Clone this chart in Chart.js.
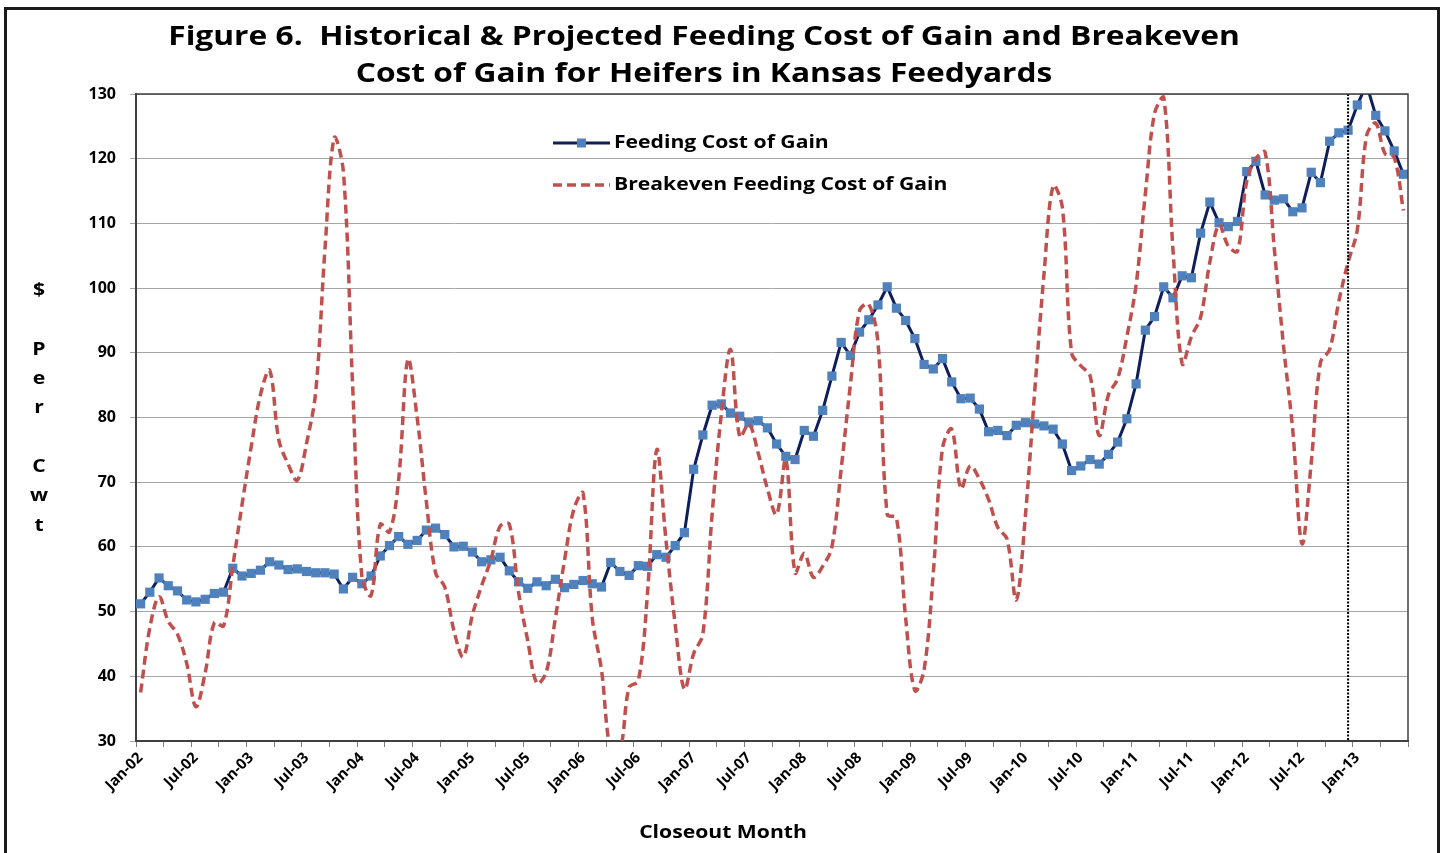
<!DOCTYPE html>
<html>
<head>
<meta charset="utf-8">
<script src="https://cdn.jsdelivr.net/npm/chart.js@4.4.1/dist/chart.umd.min.js"></script>
<style>
  html, body { margin: 0; padding: 0; background: #fff; }
  #wrap { position: relative; width: 1448px; height: 853px; overflow: hidden; }
  #frame { position: absolute; left: 4px; top: 7px; width: 1436px; height: 900px; border: 3px solid #1a1a1a; box-sizing: border-box; pointer-events: none; }
  canvas { position: absolute; left: 0; top: 0; }
</style>
</head>
<body>
<div id="wrap">
  <canvas id="chart01" width="1448" height="853"></canvas>
  <div id="frame"></div>
</div>
<script>
// categories: closeout months
const months = [
  'Jan-02', 'Feb-02', 'Mar-02', 'Apr-02', 'May-02', 'Jun-02', 'Jul-02', 'Aug-02', 'Sep-02', 'Oct-02', 'Nov-02', 'Dec-02',
  'Jan-03', 'Feb-03', 'Mar-03', 'Apr-03', 'May-03', 'Jun-03', 'Jul-03', 'Aug-03', 'Sep-03', 'Oct-03', 'Nov-03', 'Dec-03',
  'Jan-04', 'Feb-04', 'Mar-04', 'Apr-04', 'May-04', 'Jun-04', 'Jul-04', 'Aug-04', 'Sep-04', 'Oct-04', 'Nov-04', 'Dec-04',
  'Jan-05', 'Feb-05', 'Mar-05', 'Apr-05', 'May-05', 'Jun-05', 'Jul-05', 'Aug-05', 'Sep-05', 'Oct-05', 'Nov-05', 'Dec-05',
  'Jan-06', 'Feb-06', 'Mar-06', 'Apr-06', 'May-06', 'Jun-06', 'Jul-06', 'Aug-06', 'Sep-06', 'Oct-06', 'Nov-06', 'Dec-06',
  'Jan-07', 'Feb-07', 'Mar-07', 'Apr-07', 'May-07', 'Jun-07', 'Jul-07', 'Aug-07', 'Sep-07', 'Oct-07', 'Nov-07', 'Dec-07',
  'Jan-08', 'Feb-08', 'Mar-08', 'Apr-08', 'May-08', 'Jun-08', 'Jul-08', 'Aug-08', 'Sep-08', 'Oct-08', 'Nov-08', 'Dec-08',
  'Jan-09', 'Feb-09', 'Mar-09', 'Apr-09', 'May-09', 'Jun-09', 'Jul-09', 'Aug-09', 'Sep-09', 'Oct-09', 'Nov-09', 'Dec-09',
  'Jan-10', 'Feb-10', 'Mar-10', 'Apr-10', 'May-10', 'Jun-10', 'Jul-10', 'Aug-10', 'Sep-10', 'Oct-10', 'Nov-10', 'Dec-10',
  'Jan-11', 'Feb-11', 'Mar-11', 'Apr-11', 'May-11', 'Jun-11', 'Jul-11', 'Aug-11', 'Sep-11', 'Oct-11', 'Nov-11', 'Dec-11',
  'Jan-12', 'Feb-12', 'Mar-12', 'Apr-12', 'May-12', 'Jun-12', 'Jul-12', 'Aug-12', 'Sep-12', 'Oct-12', 'Nov-12', 'Dec-12',
  'Jan-13', 'Feb-13', 'Mar-13', 'Apr-13', 'May-13', 'Jun-13'
];

// $ per cwt
const feedingCost = [
  51.2, 53.0, 55.2, 54.0, 53.2, 51.8, 51.5, 51.9, 52.8, 53.0, 56.7, 55.5,
  55.9, 56.4, 57.7, 57.2, 56.5, 56.6, 56.2, 56.0, 56.0, 55.8, 53.5, 55.3,
  54.3, 55.5, 58.6, 60.2, 61.6, 60.4, 61.0, 62.6, 62.9, 61.9, 60.0, 60.1,
  59.2, 57.7, 58.0, 58.4, 56.3, 54.6, 53.6, 54.6, 54.0, 55.0, 53.7, 54.2,
  54.8, 54.3, 53.8, 57.6, 56.2, 55.6, 57.1, 57.0, 58.8, 58.4, 60.2, 62.2,
  72.0, 77.3, 81.9, 82.1, 80.7, 80.2, 79.2, 79.5, 78.4, 75.9, 74.0, 73.5,
  78.0, 77.1, 81.1, 86.4, 91.6, 89.6, 93.2, 95.1, 97.4, 100.2, 96.9, 95.0,
  92.2, 88.2, 87.5, 89.1, 85.5, 82.9, 83.0, 81.3, 77.8, 78.0, 77.2, 78.8,
  79.2, 79.0, 78.7, 78.2, 75.9, 71.8, 72.5, 73.5, 72.8, 74.3, 76.2, 79.8,
  85.2, 93.5, 95.6, 100.2, 98.5, 101.9, 101.6, 108.5, 113.3, 110.1, 109.5, 110.3,
  118.0, 119.6, 114.4, 113.6, 113.8, 111.8, 112.4, 117.9, 116.3, 122.7, 124.0, 124.4,
  128.3, 131.5, 126.7, 124.3, 121.2, 117.6
];

const breakevenCost = [
  37.5, 47.5, 52.3, 48.5, 46.5, 42.0, 35.3, 40.5, 48.3, 47.8, 57.0, 66.5,
  75.5, 83.5, 87.3, 76.5, 72.8, 70.3, 76.0, 84.0, 106.0, 123.2, 118.0, 85.0,
  55.5, 52.5, 63.5, 62.3, 70.5, 89.0, 80.0, 67.0, 56.0, 53.8, 47.0, 43.0,
  49.5, 54.0, 58.0, 63.2, 63.5, 53.0, 45.5, 38.9, 40.6, 49.0, 58.0, 65.8,
  68.3, 49.0, 41.0, 28.5, 28.5, 38.3, 39.3, 53.0, 75.0, 61.0, 48.0, 38.0,
  43.5, 46.5, 65.0, 80.5, 90.5, 77.0, 79.0, 74.5, 69.0, 65.0, 73.5, 56.0,
  59.0, 55.3, 57.0, 60.0, 72.0, 85.0, 96.5, 97.5, 91.5, 65.0, 64.5, 49.0,
  37.8, 41.0, 56.0, 75.3, 78.2, 69.0, 72.5, 70.5, 67.3, 63.0, 61.2, 51.8,
  65.0, 84.0, 102.0, 115.8, 112.5, 90.0, 88.0, 86.5, 77.2, 83.5, 86.0, 92.5,
  100.5, 114.5, 127.0, 129.5, 106.0, 88.3, 92.5, 95.5, 104.0, 109.8, 106.5, 105.7,
  116.5, 120.0, 121.0, 106.0, 91.0, 78.0, 60.5, 73.0, 88.5, 90.5, 98.0, 104.0,
  109.0, 123.5, 125.5, 120.8, 120.2, 112.0
];

const yMin = 30;
const yMax = 130;
const yStep = 10;
const projectionMonth = 'Dec-12';

const titleLines = [
  'Figure 6.  Historical & Projected Feeding Cost of Gain and Breakeven',
  'Cost of Gain for Heifers in Kansas Feedyards'
];
const yTitle = '$ Per Cwt';
const xTitle = 'Closeout Month';

const navy = '#0e1e5b';
const blueMarker = '#4f81bd';
const red = '#c0504d';
const fontName = '"Open Sans", "DejaVu Sans", sans-serif';
// the original figure was stretched sideways, so its text is wider than it is tall
const stretch = 1.175;

Chart.defaults.font.family = fontName;
Chart.defaults.color = '#000';

function wideText(ctx, text, x, y) {
  ctx.save();
  ctx.translate(x, y);
  ctx.scale(stretch, 1);
  ctx.fillText(text, 0, 0);
  ctx.restore();
}

const extras = {
  id: 'extras',
  afterDatasetsDraw(chart) {
    const { ctx, chartArea, scales } = chart;
    const x = scales.x.getPixelForValue(months.indexOf(projectionMonth));
    ctx.save();
    ctx.strokeStyle = '#000';
    ctx.lineWidth = 2;
    ctx.setLineDash([2, 1.5]);
    ctx.beginPath();
    ctx.moveTo(x, chartArea.top);
    ctx.lineTo(x, chartArea.bottom);
    ctx.stroke();
    ctx.restore();
  },
  afterDraw(chart) {
    const { ctx, chartArea } = chart;
    ctx.save();

    // top and right edges of the plot area
    ctx.strokeStyle = '#404040';
    ctx.lineWidth = 1.5;
    ctx.beginPath();
    ctx.moveTo(chartArea.left, chartArea.top);
    ctx.lineTo(chartArea.right, chartArea.top);
    ctx.lineTo(chartArea.right, chartArea.bottom);
    ctx.stroke();

    ctx.fillStyle = '#000';
    ctx.textBaseline = 'middle';

    // title
    ctx.textAlign = 'center';
    ctx.font = 'bold 27px ' + fontName;
    wideText(ctx, titleLines[0], 704, 37);
    wideText(ctx, titleLines[1], 704, 74);

    // legend inside the plot
    const lx = chartArea.left + 417;
    const ly1 = chartArea.top + 49;
    const ly2 = chartArea.top + 91;
    const ds = chart.data.datasets;

    ctx.strokeStyle = navy;
    ctx.lineWidth = 3;
    ctx.beginPath();
    ctx.moveTo(lx, ly1);
    ctx.lineTo(lx + 57, ly1);
    ctx.stroke();
    ctx.fillStyle = blueMarker;
    ctx.fillRect(lx + 24, ly1 - 4.5, 9, 9);

    ctx.strokeStyle = red;
    ctx.lineWidth = 3.5;
    ctx.setLineDash([9, 5]);
    ctx.beginPath();
    ctx.moveTo(lx, ly2);
    ctx.lineTo(lx + 57, ly2);
    ctx.stroke();
    ctx.setLineDash([]);

    ctx.fillStyle = '#000';
    ctx.font = 'bold 18px ' + fontName;
    ctx.textAlign = 'left';
    wideText(ctx, ds[1].label, lx + 61, ly1);
    wideText(ctx, ds[0].label, lx + 61, ly2);

    // stacked y title
    ctx.textAlign = 'center';
    const letters = yTitle.split('');
    for (let i = 0; i < letters.length; i++) {
      wideText(ctx, letters[i], 39, 291 + i * 29.3);
    }

    // x title
    wideText(ctx, xTitle, 723, 833);
    ctx.restore();
  }
};

new Chart(document.getElementById('chart01'), {
  type: 'line',
  data: {
    labels: months,
    datasets: [{
      label: 'Breakeven Feeding Cost of Gain',
      data: breakevenCost,
      borderColor: red,
      borderWidth: 3.5,
      borderDash: [9, 5],
      pointRadius: 0,
      tension: 0.35,
      clip: 0,
      order: 0
    },
    {
      label: 'Feeding Cost of Gain',
      data: feedingCost,
      borderColor: navy,
      borderWidth: 3,
      pointStyle: 'rect',
      pointRadius: 6.5,
      pointBackgroundColor: blueMarker,
      pointBorderColor: blueMarker,
      pointBorderWidth: 0,
      tension: 0,
      clip: 0,
      order: 1
    }]
  },
  options: {
    responsive: false,
    animation: false,
    layout: { padding: { left: 0, right: 40, top: 94, bottom: 0 } },
    plugins: {
      legend: { display: false },
      tooltip: { enabled: false },
      title: { display: false }
    },
    scales: {
      x: {
        offset: true,
        grid: {
          offset: true,
          drawOnChartArea: false,
          drawTicks: true,
          tickLength: 6,
          color: (c) => (c.index === undefined || c.index % 3 === 0) ? '#7f7f7f' : 'rgba(0,0,0,0)'
        },
        border: { display: true, color: '#404040', width: 2 },
        ticks: {
          autoSkip: false,
          minRotation: 45,
          maxRotation: 45,
          padding: 2,
          color: '#000',
          font: { size: 15, weight: 'bold' },
          callback: function (value, index) {
            return index % 6 === 0 ? months[index] : '';
          }
        },
        afterFit: function (scale) { scale.height = 112; }
      },
      y: {
        min: yMin,
        max: yMax,
        ticks: {
          stepSize: yStep,
          padding: 14,
          color: '#000',
          font: { size: 16, weight: 'bold' }
        },
        grid: { color: '#a6a6a6', lineWidth: 1, tickLength: 6 },
        border: { display: true, color: '#404040', width: 2 },
        afterFit: function (scale) { scale.width = 136; }
      }
    }
  },
  plugins: [extras]
});
</script>
</body>
</html>
